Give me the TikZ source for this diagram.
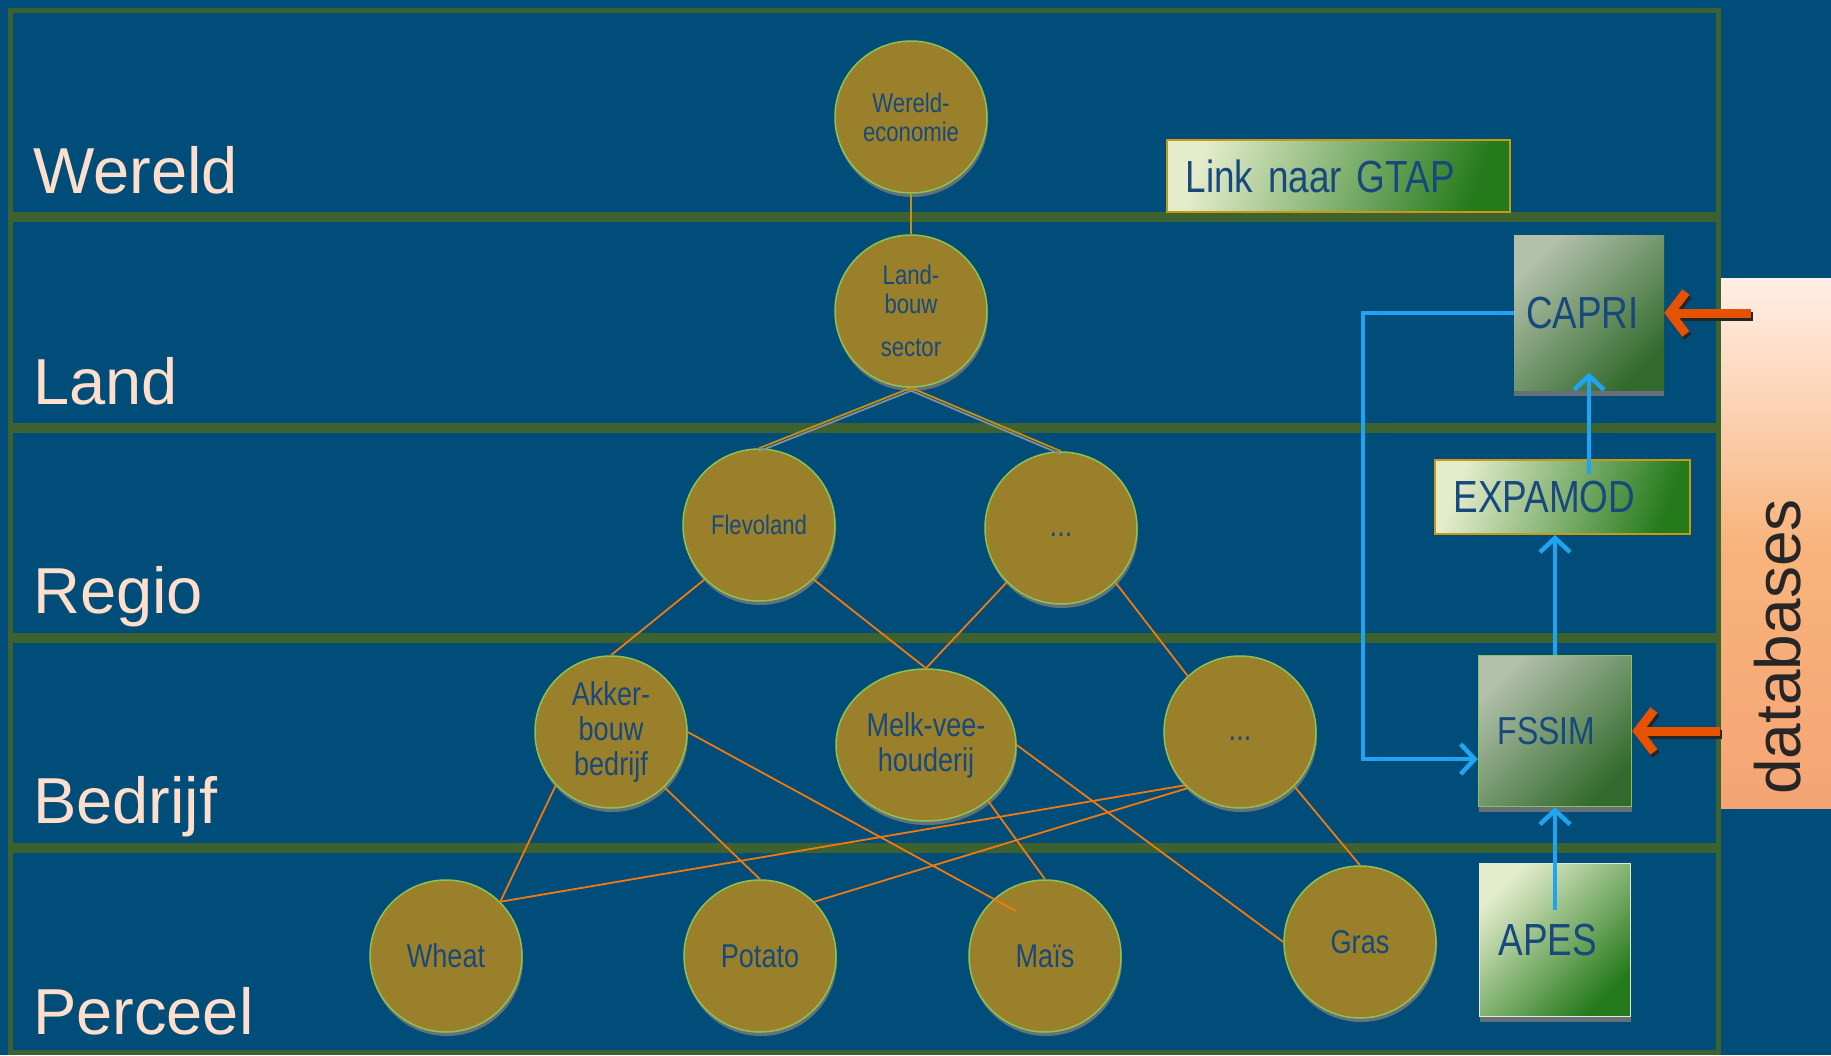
\documentclass[tikz,border=0pt]{standalone}
\usepackage{fontspec}
\usepackage{xcolor}
\usetikzlibrary{shapes.geometric,shadows,arrows.meta,calc}

\setmainfont{Liberation Sans}
\newfontfamily\smal[FakeStretch=0.82]{Liberation Sans}

\definecolor{achtergrond}{HTML}{004D7A}
\definecolor{randgroen}{HTML}{3E6130}
\definecolor{labelroze}{HTML}{FFDFCC}
\definecolor{oker}{HTML}{9A802A}
\definecolor{bolrand}{HTML}{8CC350}
\definecolor{bolschaduw}{HTML}{66707A}
\definecolor{tekstblauw}{HTML}{17497C}
\definecolor{lijnoranje}{HTML}{F27A0C}
\definecolor{goudlijn}{HTML}{C8900A}
\definecolor{pijlblauw}{HTML}{1EA4F0}
\definecolor{invoeroranje}{HTML}{E65200}
\definecolor{vakgoud}{HTML}{C89A10}
\definecolor{licht}{HTML}{E4ECCC}
\definecolor{donkergroen}{HTML}{257A1C}
\definecolor{grijsgroen}{HTML}{B2C0AA}
\definecolor{modelgroen}{HTML}{336B2E}
\definecolor{dbwit}{HTML}{FFEFE6}
\definecolor{dbperzik}{HTML}{F8B47C}
\definecolor{dboranje}{HTML}{F5A474}

\tikzset{
	rand/.style={draw=randgroen, line width=5pt},
	scheiding/.style={draw=randgroen, line width=10pt},
	niveau/.style={anchor=base west, inner sep=0pt, text=labelroze, font=\fontsize{65}{65}\selectfont},
	bol/.style={ellipse, minimum width=152pt, minimum height=152pt, inner sep=0pt, fill=oker, draw=bolrand, line width=1.5pt, text=tekstblauw, align=center, drop shadow={shadow xshift=1pt, shadow yshift=-4pt, opacity=1, fill=bolschaduw}},
	bolklein/.style={bol, font=\smal\fontsize{27}{29}\selectfont},
	bolgroot/.style={bol, font=\smal\fontsize{33}{35}\selectfont},
	vak/.style={rectangle, inner xsep=19pt, inner ysep=0pt, align=left, text=tekstblauw, font=\smal\fontsize{45}{45}\selectfont},
	lichtvak/.style={vak, draw=vakgoud, line width=2pt, top color=licht, bottom color=donkergroen, shading angle=70},
	modelvak/.style={vak, top color=grijsgroen, bottom color=modelgroen, shading angle=45, drop shadow={shadow xshift=0pt, shadow yshift=-5pt, opacity=1, fill=bolschaduw}},
	apesvak/.style={vak, draw=licht, line width=1.5pt, top color=licht, bottom color=donkergroen, shading angle=45, drop shadow={shadow xshift=0pt, shadow yshift=-5pt, opacity=1, fill=bolschaduw}},
	dbvak/.style={rectangle, inner sep=0pt, top color=dbwit, bottom color=dboranje, middle color=dbperzik},
	dbtekst/.style={inner sep=0pt, text=black!85, font=\fontsize{64}{64}\selectfont},
	verbinding/.style={draw=lijnoranje, line width=1.8pt},
	goud/.style={draw=goudlijn, line width=1.8pt},
	grijs/.style={draw=bolschaduw!80!white, line width=1.8pt, transform canvas={yshift=-3pt}},
	pijl/.style={draw=pijlblauw, line width=4.5pt, -{Straight Barb[length=14pt, width=30pt]}},
	invoer/.style={draw=invoeroranje, line width=9pt, -{Straight Barb[length=16pt, width=42pt]}},
	invoerschaduw/.style={invoer, draw=black!85, transform canvas={shift={(2pt,-3pt)}}}
}

\begin{document}
\begin{tikzpicture}[x=1pt, y=-1pt]
	\useasboundingbox (0,0) rectangle (1831,1055);
	\fill[achtergrond] (0,0) rectangle (1831,1055);
	
	\node[dbvak, minimum width=111pt, minimum height=530pt] (db) at (1775.5,543) {};
	\node[dbtekst, rotate=90] (dbnaam) at (1778,647) {databases};
	
	\draw[rand] (10,10) rectangle (1718,1052);
	\draw[scheiding] (10,217) -- (1718,217);
	\draw[scheiding] (10,428) -- (1718,428);
	\draw[scheiding] (10,638) -- (1718,638);
	\draw[scheiding] (10,848) -- (1718,848);
	
	\node[niveau] (lwereld) at (33,193) {Wereld};
	\node[niveau] (lland) at (33,404) {Land};
	\node[niveau] (lregio) at (33,613) {Regio};
	\node[niveau] (lbedrijf) at (33,823) {Bedrijf};
	\node[niveau] (lperceel) at (33,1034) {Perceel};
	
	\node[bolklein] (wereldec) at (911,117) {Wereld-\\economie};
	\node[bolklein] (landbouw) at (911,311) {Land-\\bouw\\[14pt]sector};
	\node[bolklein] (flevo) at (759,525) {Flevoland};
	\node[bolgroot] (regio2) at (1061,528) {\vphantom{a}...};
	\node[bolgroot] (akker) at (611,732) {Akker-\\bouw\\bedrijf};
	\node[bolgroot, minimum width=180pt] (melk) at (926,745) {Melk-vee-\\houderij};
	\node[bolgroot] (bedrijf2) at (1240,732) {\vphantom{a}...};
	\node[bolgroot] (wheat) at (446,956) {Wheat};
	\node[bolgroot] (potato) at (760,956) {Potato};
	\node[bolgroot] (mais) at (1045,956) {Maïs};
	\node[bolgroot] (gras) at (1360,942) {Gras};
	
	\draw[goud] (wereldec.south) -- (landbouw.north);
	\draw[grijs] (landbouw.south) -- (flevo.north);
	\draw[grijs] (landbouw.south) -- (regio2.north);
	\draw[goud] (landbouw.south) -- (flevo.north);
	\draw[goud] (landbouw.south) -- (regio2.north);
	
	\draw[verbinding] (flevo.225) -- (akker.north);
	\draw[verbinding] (flevo.315) -- (melk.north);
	\draw[verbinding] (regio2.225) -- (melk.north);
	\draw[verbinding] (regio2.315) -- (bedrijf2.133);
	\draw[verbinding] (akker.224) -- (wheat.45);
	\draw[verbinding] (akker.314) -- (potato.north);
	\draw[verbinding] (akker.east) -- ($(mais.center)!0.7!(mais.123)$);
	\draw[verbinding] (melk.318) -- (mais.north);
	\draw[verbinding] (melk.east) -- (gras.west);
	\draw[verbinding] (bedrijf2.224) -- (wheat.45);
	\draw[verbinding] (bedrijf2.227) -- (potato.45);
	\draw[verbinding] (bedrijf2.315) -- (gras.north);
	
	\node[lichtvak, text width=305pt, minimum height=72pt] (gtap) at (1338,176) {Link naar GTAP};
	\node[modelvak, inner xsep=12pt, text width=126pt, minimum height=155pt] (capri) at (1589,313) {CAPRI};
	\node[lichtvak, text width=217pt, minimum height=74pt] (expamod) at (1562,497) {EXPAMOD};
	\node[modelvak, draw=bolrand, line width=1.5pt, text width=115pt, minimum height=151pt, font=\smal\fontsize{39}{39}\selectfont] (fssim) at (1555,731) {FSSIM};
	\node[apesvak, text width=113pt, minimum height=153pt] (apes) at (1555,940) {APES};
	
	\draw[pijl] ($(apes.center)+(0,-30)$) -- (fssim.south);
	\draw[pijl] (fssim.north) -- (fssim.north |- expamod.south);
	\draw[pijl] ($(expamod.north -| capri.center)+(0,15)$) -- ($(capri.south)+(0,-18)$);
	\draw[pijl] (capri.west) -- ++(-151,0) |- (fssim.200);
	
	\draw[invoerschaduw] ($(capri.east -| db.west)+(31,0)$) -- (capri.east);
	\draw[invoer] ($(capri.east -| db.west)+(31,0)$) -- (capri.east);
	\draw[invoerschaduw] (fssim.east -| db.west) -- (fssim.east);
	\draw[invoer] (fssim.east -| db.west) -- (fssim.east);
\end{tikzpicture}
\end{document}
